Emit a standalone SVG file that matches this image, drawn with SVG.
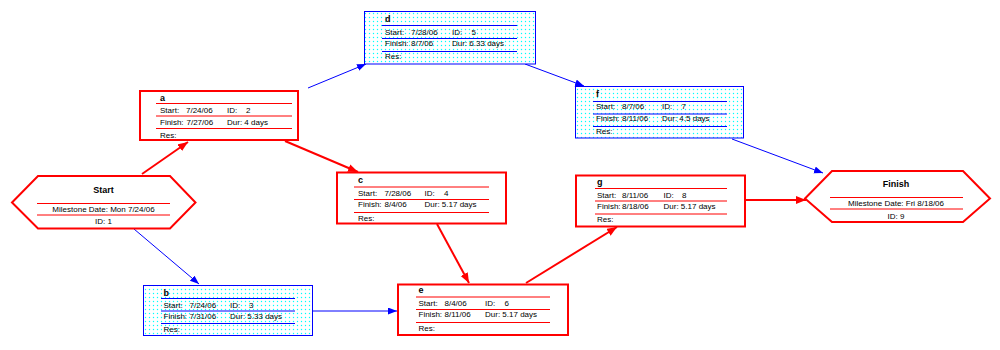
<svg xmlns="http://www.w3.org/2000/svg" width="1000" height="350" viewBox="0 0 1000 350">
<style>
text{font-family:"Liberation Sans",Arial,sans-serif;font-size:8px;fill:#000}
.t{font-size:9px;font-weight:bold}
.h{font-size:9px;font-weight:bold;text-anchor:middle}
.m{text-anchor:middle}
.rb{fill:#fff;stroke:#f00;stroke-width:2}
.bb{fill:url(#dots);stroke:#00f;stroke-width:1}
.rl{stroke:#f00;stroke-width:1}
.bl{stroke:#00f;stroke-width:1}
.rc{stroke:#f00;stroke-width:2;fill:none}
.bc{stroke:#00f;stroke-width:1;fill:none}
</style>
<defs>
<pattern id="dots" width="4" height="4" patternUnits="userSpaceOnUse"><rect width="4" height="4" fill="#fff"/><circle cx="1.5" cy="1.5" r="0.7" fill="#00ffff"/></pattern>
<marker id="ra" markerUnits="userSpaceOnUse" markerWidth="11" markerHeight="9" refX="10" refY="4" orient="auto"><path d="M0,0 L10,4 L0,8 z" fill="#f00"/></marker>
<marker id="ba" markerUnits="userSpaceOnUse" markerWidth="10" markerHeight="8" refX="9" refY="3.5" orient="auto"><path d="M0,0 L9,3.5 L0,7 z" fill="#00f"/></marker>
</defs>
<rect width="1000" height="350" fill="#fff"/>
<g id="connectors">
<path class="rc" d="M142,174 L188,142" marker-end="url(#ra)"/>
<path class="bc" d="M134,229 L199,284" marker-end="url(#ba)"/>
<path class="bc" d="M308,88 L366,64" marker-end="url(#ba)"/>
<path class="rc" d="M285,141 L358,172" marker-end="url(#ra)"/>
<path class="bc" d="M525,64 L584,86" marker-end="url(#ba)"/>
<path class="bc" d="M732,139 L823,173" marker-end="url(#ba)"/>
<path class="rc" d="M437,224 L469,283" marker-end="url(#ra)"/>
<path class="bc" d="M313,311 L397,311" marker-end="url(#ba)"/>
<path class="rc" d="M526,283 L617,227" marker-end="url(#ra)"/>
<path class="rc" d="M745,200 L806,200" marker-end="url(#ra)"/>
</g>
<g id="start">
<polygon class="rb" points="12,202.5 38,176 170,176 195.5,202.5 170,228.5 38,228.5"/>
<line class="rl" x1="37" y1="203.5" x2="170" y2="203.5"/>
<line class="rl" x1="37" y1="215" x2="170" y2="215"/>
<text class="h" x="103.5" y="193">Start</text>
<text class="m" x="103.5" y="212">Milestone Date: Mon 7/24/06</text>
<text class="m" x="103.5" y="224">ID: 1</text>
</g>
<g id="finish">
<polygon class="rb" points="805,198.5 832,171 963,171 990,198.5 963,222 832,222"/>
<line class="rl" x1="830" y1="197.5" x2="963" y2="197.5"/>
<line class="rl" x1="830" y1="209" x2="963" y2="209"/>
<text class="h" x="896" y="187">Finish</text>
<text class="m" x="896" y="206">Milestone Date: Fri 8/18/06</text>
<text class="m" x="896" y="218.5">ID: 9</text>
</g>
<g id="a">
<rect class="rb" x="140" y="91" width="158" height="49"/>
<line class="rl" x1="156" y1="103.5" x2="292" y2="103.5"/>
<line class="rl" x1="156" y1="116" x2="292" y2="116"/>
<line class="rl" x1="156" y1="128.5" x2="292" y2="128.5"/>
<text class="t" x="160" y="101">a</text>
<text x="160" y="112.5">Start:</text><text x="186" y="112.5">7/24/06</text><text x="227" y="112.5">ID:</text><text x="246" y="112.5">2</text>
<text x="160" y="125">Finish:</text><text x="186.5" y="125">7/27/06</text><text x="227" y="125">Dur: 4 days</text>
<text x="160" y="137.5">Res:</text>
</g>
<g id="b">
<rect class="bb" x="143.5" y="285.5" width="169" height="50"/>
<line class="bl" x1="161" y1="298.5" x2="295" y2="298.5"/>
<line class="bl" x1="161" y1="311" x2="295" y2="311"/>
<line class="bl" x1="161" y1="323.5" x2="295" y2="323.5"/>
<text class="t" x="163.5" y="295.5">b</text>
<text x="163.5" y="307.5">Start:</text><text x="189.5" y="307.5">7/24/06</text><text x="230" y="307.5">ID:</text><text x="249" y="307.5">3</text>
<text x="163.5" y="319">Finish:</text><text x="189.5" y="319">7/31/06</text><text x="230" y="319">Dur: 5.33 days</text>
<text x="163.5" y="332">Res:</text>
</g>
<g id="c">
<rect class="rb" x="337" y="172.5" width="169" height="51"/>
<line class="rl" x1="354" y1="187" x2="489" y2="187"/>
<line class="rl" x1="354" y1="199.5" x2="489" y2="199.5"/>
<line class="rl" x1="354" y1="212.5" x2="489" y2="212.5"/>
<text class="t" x="358" y="183">c</text>
<text x="358" y="196">Start:</text><text x="384.5" y="196">7/28/06</text><text x="424.5" y="196">ID:</text><text x="444" y="196">4</text>
<text x="358" y="207">Finish:</text><text x="384.5" y="207">8/4/06</text><text x="424.5" y="207">Dur: 5.17 days</text>
<text x="358" y="220.5">Res:</text>
</g>
<g id="d">
<rect class="bb" x="364.5" y="11.5" width="171" height="52.5"/>
<line class="bl" x1="382" y1="25.5" x2="517" y2="25.5"/>
<line class="bl" x1="382" y1="38.5" x2="517" y2="38.5"/>
<line class="bl" x1="382" y1="51.5" x2="517" y2="51.5"/>
<text class="t" x="385" y="22">d</text>
<text x="385" y="35">Start:</text><text x="411" y="35">7/28/06</text><text x="452" y="35">ID:</text><text x="471.5" y="35">5</text>
<text x="385" y="46">Finish:</text><text x="411" y="46">8/7/06</text><text x="452" y="46">Dur: 6.33 days</text>
<text x="385" y="59">Res:</text>
</g>
<g id="e">
<rect class="rb" x="398" y="284.5" width="170" height="50.5"/>
<line class="rl" x1="416" y1="297" x2="550" y2="297"/>
<line class="rl" x1="416" y1="309.5" x2="550" y2="309.5"/>
<line class="rl" x1="416" y1="322.5" x2="550" y2="322.5"/>
<text class="t" x="418.5" y="293">e</text>
<text x="418.5" y="306">Start:</text><text x="444.5" y="306">8/4/06</text><text x="485" y="306">ID:</text><text x="504.5" y="306">6</text>
<text x="418.5" y="316.5">Finish:</text><text x="444.5" y="316.5">8/11/06</text><text x="485" y="316.5">Dur: 5.17 days</text>
<text x="418.5" y="330.5">Res:</text>
</g>
<g id="f">
<rect class="bb" x="575.5" y="86.5" width="168" height="51.5"/>
<line class="bl" x1="593" y1="101.5" x2="727" y2="101.5"/>
<line class="bl" x1="593" y1="114" x2="727" y2="114"/>
<line class="bl" x1="593" y1="126.5" x2="727" y2="126.5"/>
<text class="t" x="596" y="97">f</text>
<text x="596" y="108.5">Start:</text><text x="622" y="108.5">8/7/06</text><text x="662" y="108.5">ID:</text><text x="681.5" y="108.5">7</text>
<text x="596" y="120.5">Finish:</text><text x="622" y="120.5">8/11/06</text><text x="662" y="120.5">Dur: 4.5 days</text>
<text x="596" y="133.5">Res:</text>
</g>
<g id="g">
<rect class="rb" x="576" y="175.5" width="169" height="51"/>
<line class="rl" x1="595" y1="188.5" x2="727" y2="188.5"/>
<line class="rl" x1="595" y1="201" x2="727" y2="201"/>
<line class="rl" x1="595" y1="214" x2="727" y2="214"/>
<text class="t" x="597" y="185">g</text>
<text x="597" y="197.5">Start:</text><text x="622" y="197.5">8/11/06</text><text x="663.5" y="197.5">ID:</text><text x="682" y="197.5">8</text>
<text x="597" y="208.5">Finish:</text><text x="622" y="208.5">8/18/06</text><text x="663.5" y="208.5">Dur: 5.17 days</text>
<text x="597" y="222">Res:</text>
</g>
</svg>
